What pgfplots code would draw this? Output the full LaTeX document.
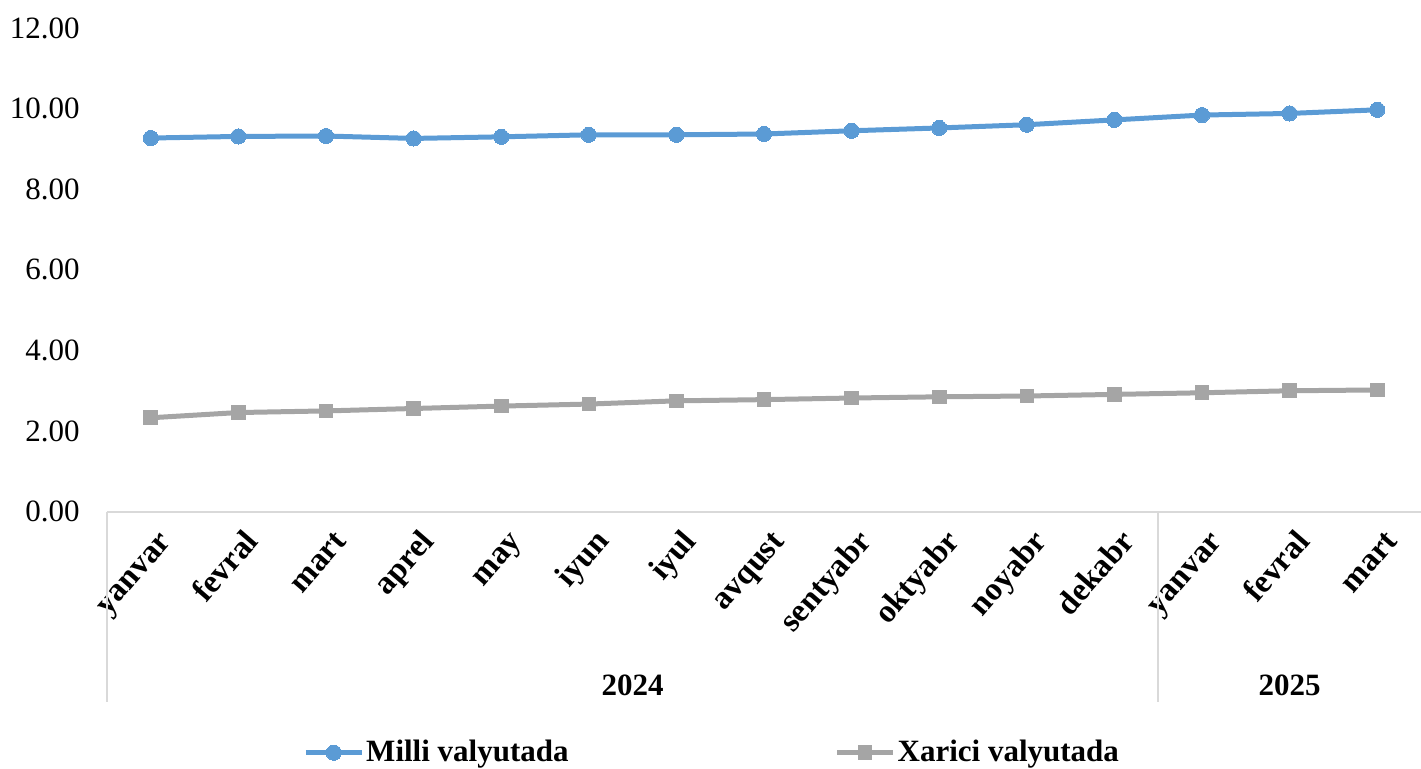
\documentclass[border=0pt]{standalone}
\usepackage{pgfplots}
\pgfplotsset{compat=1.18}
\usepackage{fontspec}
\setmainfont{Liberation Serif}
\definecolor{cblue}{HTML}{5B9BD5}
\definecolor{cgray}{HTML}{A5A5A5}
\definecolor{cline}{HTML}{D9D9D9}
\newcommand{\fs}{\fontsize{15.5}{18}\selectfont}
\begin{document}
\begin{tikzpicture}
\path[use as bounding box] (-53.5pt,-128.65pt) rectangle (657pt,255.85pt);
\begin{axis}[
  at={(0,0)}, anchor=south west,
  scale only axis, width=657pt, height=241.85pt,
  xmin=-0.5, xmax=14.5, ymin=0, ymax=12,
  clip=false,
  axis x line*=bottom, axis y line*=left,
  x axis line style={draw=cline, line width=1pt, -},
  y axis line style={draw=none},
  tick style={draw=none},
  ytick={0,2,4,6,8,10,12},
  xtick={0,...,14},
  xticklabels={yanvar,fevral,mart,aprel,may,iyun,iyul,avqust,sentyabr,oktyabr,noyabr,dekabr,yanvar,fevral,mart},
  /pgf/number format/.cd, fixed, fixed zerofill, precision=2, assume math mode=true,
  /pgfplots/.cd,
  yticklabel style={font=\fs, inner sep=0pt, anchor=east, xshift=-13.5pt},
  xticklabel style={font=\fontsize{16.3}{18}\selectfont\bfseries, rotate=49, anchor=east, inner sep=0pt, text height=0.68em, text depth=0.22em, xshift=-4.3pt, yshift=-15.8pt},
  legend columns=2,
  legend style={draw=none, fill=none, font=\fs\bfseries, at={(0.4605,0)}, anchor=center, yshift=-120.5pt,
    /tikz/every even column/.append style={column sep=132pt},
    nodes={inner sep=1pt}},
  legend image code/.code={\draw[mark repeat=2,mark phase=2,#1] plot coordinates {(0pt,0pt)(14pt,0pt)(28pt,0pt)};},
]
\addplot[color=cblue, line width=2.5pt, mark=*, mark size=3.8pt, mark options={solid, fill=cblue, draw=cblue, line width=0pt}]
  coordinates {(0,9.27)(1,9.31)(2,9.32)(3,9.26)(4,9.30)(5,9.35)(6,9.35)(7,9.37)(8,9.45)(9,9.52)(10,9.60)(11,9.72)(12,9.84)(13,9.88)(14,9.97)};
\addlegendentry{Milli valyutada}
\addplot[color=cgray, line width=2.5pt, mark=square*, mark size=3.4pt, mark options={solid, fill=cgray, draw=cgray, line width=0pt}]
  coordinates {(0,2.33)(1,2.46)(2,2.50)(3,2.56)(4,2.62)(5,2.67)(6,2.75)(7,2.78)(8,2.82)(9,2.85)(10,2.87)(11,2.91)(12,2.95)(13,3.00)(14,3.02)};
\addlegendentry{Xarici valyutada}
\draw[cline, line width=1pt] (axis cs:-0.5,0) -- ([yshift=-95pt]axis cs:-0.5,0);
\draw[cline, line width=1pt] (axis cs:11.5,0) -- ([yshift=-95pt]axis cs:11.5,0);
\node[font=\fs\bfseries] at ([yshift=-87pt]axis cs:5.5,0) {2024};
\node[font=\fs\bfseries] at ([yshift=-87pt]axis cs:13,0) {2025};
\end{axis}
\end{tikzpicture}
\end{document}
